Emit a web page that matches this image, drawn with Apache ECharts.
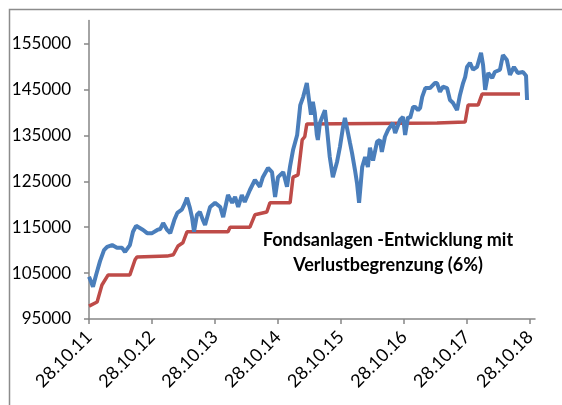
<!DOCTYPE html>
<html>
<head>
<meta charset="utf-8">
<script src="https://cdn.jsdelivr.net/npm/echarts@6/dist/echarts.min.js"></script>
<style>
  html, body { margin: 0; padding: 0; background: #fff; }
  #chart { width: 562px; height: 405px; }
</style>
</head>
<body>
<div id="chart"></div>
<script>
// Fondsanlage (blau)
const fondDates = [
  '2011-10-28', '2011-11-09', '2011-11-20', '2011-12-08', '2011-12-31', '2012-01-23', '2012-02-10', '2012-03-10',
  '2012-04-07', '2012-05-07', '2012-05-24', '2012-06-21', '2012-07-09', '2012-07-27', '2012-08-07', '2012-09-06',
  '2012-09-29', '2012-10-28', '2012-11-27', '2012-12-14', '2012-12-31', '2013-01-23', '2013-02-10', '2013-03-06',
  '2013-03-23', '2013-04-18', '2013-05-07', '2013-05-18', '2013-06-04', '2013-06-16', '2013-06-28', '2013-07-15',
  '2013-08-01', '2013-08-18', '2013-08-31', '2013-09-29', '2013-10-28', '2013-11-27', '2013-12-14', '2014-01-11',
  '2014-02-04', '2014-02-21', '2014-03-11', '2014-04-01', '2014-04-18', '2014-05-18', '2014-06-16', '2014-07-15',
  '2014-08-01', '2014-08-31', '2014-09-23', '2014-10-11', '2014-10-28', '2014-11-27', '2014-12-19', '2015-01-06',
  '2015-01-23', '2015-02-16', '2015-03-06', '2015-03-23', '2015-04-13', '2015-04-24', '2015-05-07', '2015-05-18',
  '2015-05-29', '2015-06-10', '2015-06-16', '2015-06-28', '2015-07-09', '2015-07-27', '2015-08-07', '2015-08-24',
  '2015-09-11', '2015-10-05', '2015-10-22', '2015-11-08', '2015-11-20', '2015-12-08', '2015-12-19', '2015-12-31',
  '2016-01-17', '2016-01-29', '2016-02-10', '2016-02-28', '2016-03-16', '2016-04-01', '2016-04-13', '2016-05-01',
  '2016-05-24', '2016-06-10', '2016-06-21', '2016-07-09', '2016-07-27', '2016-08-07', '2016-08-24', '2016-09-06',
  '2016-09-17', '2016-10-05', '2016-10-22', '2016-11-03', '2016-11-20', '2016-12-02', '2016-12-19', '2016-12-31',
  '2017-01-17', '2017-01-29', '2017-02-10', '2017-02-28', '2017-03-27', '2017-04-24', '2017-05-07', '2017-05-24',
  '2017-06-10', '2017-07-04', '2017-07-21', '2017-08-07', '2017-08-31', '2017-09-17', '2017-10-05', '2017-10-17',
  '2017-10-28', '2017-11-14', '2017-12-02', '2017-12-25', '2018-01-17', '2018-01-29', '2018-02-10', '2018-02-28',
  '2018-03-23', '2018-04-07', '2018-05-07', '2018-05-24', '2018-06-16', '2018-07-04', '2018-07-27', '2018-08-18',
  '2018-09-17', '2018-10-05', '2018-10-11'
];
const fondValues = [
  104200, 103100, 102000, 104600, 107600, 110000, 110700, 111100,
  110500, 110500, 109600, 111100, 114000, 115300, 115500, 114400,
  113700, 113700, 114400, 114600, 115900, 114400, 113700, 116600,
  118100, 118800, 120300, 121400, 119200, 117200, 114000, 117700,
  118300, 116600, 115500, 119400, 120300, 119400, 117200, 122000,
  120300, 121600, 119400, 122000, 120500, 123100, 125300, 123800,
  125900, 127900, 127000, 121600, 125900, 127000, 123800, 128300,
  131800, 135100, 141600, 143400, 146400, 143200, 139500, 142300,
  139900, 135100, 134000, 137700, 138800, 140500, 136800, 130300,
  125900, 129200, 132500, 136600, 138800, 135500, 133400, 131200,
  127500, 124600, 120300, 128100, 130300, 128100, 132300, 129500,
  133600, 134000, 131400, 134700, 136200, 136800, 137700, 135500,
  135500, 138400, 139000, 135100, 139000, 138800, 141200, 141200,
  140500, 141000, 143400, 145300, 145300, 146400, 146400, 144500,
  145600, 145300, 142700, 142100, 140500, 143800, 146400, 147700,
  149900, 150800, 149300, 149900, 153000, 150300, 144900, 148600,
  147500, 148800, 149300, 152500, 151400, 148200, 149900, 148600,
  148800, 148000, 142700
];

// Verlustbegrenzung 6% (rot)
const stopDates = [
  '2011-10-28', '2011-12-14', '2012-01-11', '2012-02-16', '2012-06-21', '2012-07-21', '2012-08-01', '2013-01-23',
  '2013-02-28', '2013-03-27', '2013-04-24', '2013-05-18', '2014-01-11', '2014-01-23', '2014-05-18', '2014-06-16',
  '2014-08-24', '2014-09-11', '2015-01-06', '2015-01-23', '2015-02-21', '2015-03-17', '2015-04-01', '2015-04-13',
  '2017-05-07', '2017-10-17', '2017-11-03', '2017-12-31', '2018-01-23', '2018-08-31'
];
const stopValues = [
  97800, 98700, 102400, 104600, 104600, 107900, 108500, 108700,
  109000, 110900, 111600, 114000, 114000, 115000, 115000, 117700,
  118300, 120300, 120300, 125900, 126400, 134000, 134700, 137500,
  137700, 137900, 141600, 141600, 144000, 144000
];

const xTicks = ['2011-10-28', '2012-10-28', '2013-10-28', '2014-10-28', '2015-10-28', '2016-10-28', '2017-10-28', '2018-10-28'];
const yTicks = [95000, 105000, 115000, 125000, 135000, 145000, 155000];
const titleLines = ['Fondsanlagen -Entwicklung mit', 'Verlustbegrenzung (6%)'];

const toTime = s => new Date(s + 'T00:00:00Z').getTime();
const pad = n => (n < 10 ? '0' : '') + n;

const chart = echarts.init(document.getElementById('chart'), null, { renderer: 'canvas' });

const axisGray = '#868686';
const option = {
  animation: false,
  textStyle: { fontFamily: 'Lato' },
  grid: { left: 89, top: 20.6, width: 446, height: 298.4, containLabel: false },
  xAxis: {
    // Datumsachse als Zahlenachse (ms), Striche nur am 28.10.
    type: 'value',
    min: toTime('2011-10-28'),
    max: toTime('2018-11-26'),
    splitLine: { show: false },
    axisLine: { lineStyle: { color: axisGray, width: 1.5 } },
    axisTick: { show: true, length: 5, lineStyle: { color: axisGray, width: 1.5 }, customValues: xTicks.map(toTime) },
    axisLabel: {
      customValues: xTicks.map(toTime),
      rotate: 45,
      margin: 15,
      fontSize: 18,
      color: '#000',
      formatter: v => {
        const d = new Date(v);
        return pad(d.getUTCDate()) + '.' + pad(d.getUTCMonth() + 1) + '.' + pad(d.getUTCFullYear() % 100);
      }
    }
  },
  yAxis: {
    type: 'value',
    min: 95000,
    max: 160000,
    splitLine: { show: false },
    axisLine: { show: true, lineStyle: { color: axisGray, width: 1.5 } },
    axisTick: { show: true, length: 5, lineStyle: { color: axisGray, width: 1.5 }, customValues: yTicks },
    axisLabel: { customValues: yTicks, margin: 18, fontSize: 17, color: '#000', formatter: v => String(v) }
  },
  series: [
    {
      name: 'Fondsanlage',
      type: 'line',
      showSymbol: false,
      data: fondDates.map((d, i) => [toTime(d), fondValues[i]]),
      lineStyle: { color: '#4a7ebb', width: 4 },
      z: 3
    },
    {
      name: 'Verlustbegrenzung',
      type: 'line',
      showSymbol: false,
      data: stopDates.map((d, i) => [toTime(d), stopValues[i]]),
      lineStyle: { color: '#be4b48', width: 3.5 },
      z: 2
    }
  ],
  graphic: [
    {
      type: 'rect',
      shape: { x: 9.5, y: 9.5, width: 700, height: 600 },
      style: { fill: null, stroke: '#8c8c8c', lineWidth: 1.5 },
      silent: true
    },
    {
      type: 'text',
      x: 388, y: 228,
      style: {
        text: titleLines.join('\n'),
        align: 'center',
        verticalAlign: 'top',
        fontFamily: 'Lato',
        fontWeight: 'bold',
        fontSize: 18,
        lineHeight: 25,
        fill: '#000'
      }
    }
  ]
};

chart.setOption(option);
</script>
</body>
</html>
